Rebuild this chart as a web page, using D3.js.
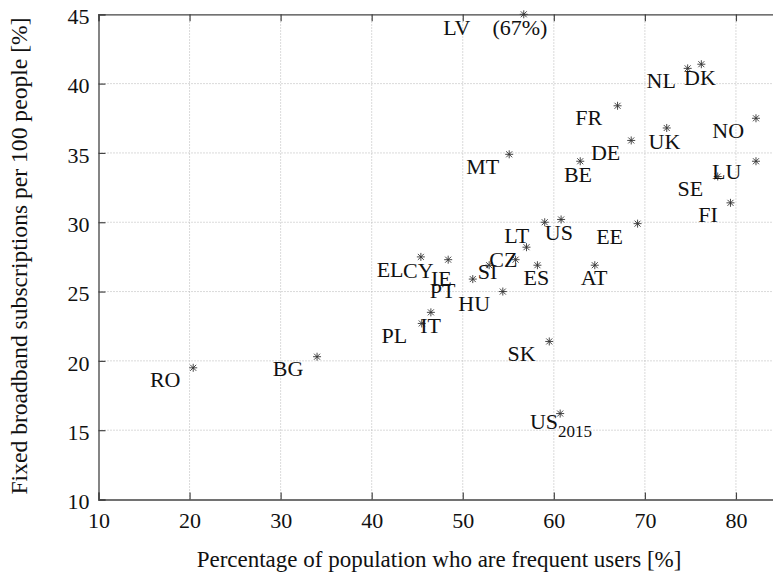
<!DOCTYPE html>
<html>
<head>
<meta charset="utf-8">
<script src="https://cdn.jsdelivr.net/npm/d3@7"></script>
<style>
  body { margin: 0; background: #fff; }
  svg { display: block; overflow: hidden; }
  text { font-family: "Liberation Serif", "Times New Roman", serif; fill: #111; }
</style>
</head>
<body>
<div class="chart"></div>
<script>
// data
const countries = ["RO","BG","LV","NL","DK","FR","NO","UK","DE","MT","BE","LU","SE","FI",
  "LT","US","EE","EL","CY","IE","SI","CZ","ES","AT","PT","HU","PL","IT","SK","US2015"]
const frequentUsers = [20.4,34.0,56.7,74.7,76.2,67.0,82.2,72.4,68.5,55.1,62.9,82.2,78.0,79.4,
  59.0,60.8,69.2,45.4,48.4,52.9,55.8,57.0,58.2,64.5,51.1,54.4,45.5,46.5,59.5,60.7]
const broadband = [19.5,20.3,45.0,41.1,41.4,38.4,37.5,36.8,35.9,34.9,34.4,34.4,33.3,31.4,
  30.0,30.2,29.9,27.5,27.3,26.9,27.3,28.2,26.9,26.9,25.9,25.0,22.7,23.5,21.4,16.2]
// where each name label sits (right end of text, baseline), in data units
const labelAt = [[19.0,18.1],[32.5,18.9],[59.3,43.5],[73.4,39.7],[77.8,39.9],[65.3,37.0],
  [80.9,36.1],[73.9,35.3],[67.3,34.5],[54.0,33.5],[64.2,32.9],[80.6,33.1],[76.4,31.9],[78.0,30.0],
  [57.3,28.5],[62.1,28.7],[67.6,28.4],[43.5,26.05],[46.8,26.0],[48.8,25.4],[53.8,25.9],[56.0,26.8],
  [59.5,25.5],[65.9,25.5],[49.2,24.5],[53.0,23.6],[43.9,21.3],[47.6,22.0],[58.0,20.0],[64.2,15.1]]
const xTicks = [10,20,30,40,50,60,70,80]
const yTicks = [10,15,20,25,30,35,40,45]

const w = 773
const h = 573
const serif = "'Liberation Serif', 'Times New Roman', serif"

const svg = d3.select(".chart")
  .append("svg")
  .attr("width", w)
  .attr("height", h)

// the plot runs past the right edge of the picture (10..90)
const xScale = d3.scaleLinear().domain([10, 90]).range([98.5, 827])
const yScale = d3.scaleLinear().domain([10, 45]).range([499.5, 14.3])

const x0 = xScale(10), y0 = yScale(10), yTop = yScale(45)

// grid
svg.append("g")
  .selectAll("line")
  .data(xTicks.slice(1))
  .enter()
  .append("line")
  .attr("x1", d => xScale(d)).attr("x2", d => xScale(d))
  .attr("y1", y0).attr("y2", yTop)
  .attr("stroke", "#b5b5b5").attr("stroke-dasharray", "1,2")

svg.append("g")
  .selectAll("line")
  .data(yTicks.slice(1, -1))
  .enter()
  .append("line")
  .attr("x1", x0).attr("x2", w)
  .attr("y1", d => yScale(d)).attr("y2", d => yScale(d))
  .attr("stroke", "#b5b5b5").attr("stroke-dasharray", "1,2")

// axes
const xAxis = d3.axisBottom(xScale).tickValues(xTicks).tickSize(-7).tickPadding(16)
const gx = svg.append("g")
  .attr("transform", "translate(0," + y0 + ")")
  .call(xAxis)

const xTop = d3.axisTop(xScale).tickValues(xTicks).tickSize(-7).tickFormat("")
const gxt = svg.append("g")
  .attr("transform", "translate(0," + yTop + ")")
  .call(xTop)

const yAxis = d3.axisLeft(yScale).tickValues(yTicks).tickSize(-7).tickPadding(9)
const gy = svg.append("g")
  .attr("transform", "translate(" + x0 + ",0)")
  .call(yAxis)

;[gx, gxt, gy].forEach(g => {
  g.attr("font-family", serif).attr("font-size", 22)
  g.select(".domain").attr("stroke", "#444").attr("stroke-width", 1.3)
  g.selectAll(".tick line").attr("stroke", "#444").attr("stroke-width", 1.2)
  g.selectAll(".tick text")
    .style("font-family", serif)
    .style("font-size", "22px")
    .attr("fill", "#111")
})
gx.selectAll(".tick text").attr("dy", "0.55em")
gy.selectAll(".tick text").attr("dy", "0.42em")

// axis titles
svg.append("text")
  .attr("x", 439)
  .attr("y", 567)
  .attr("text-anchor", "middle")
  .style("font-size", "23px")
  .text("Percentage of population who are frequent users [%]")

svg.append("text")
  .attr("transform", "translate(27,256) rotate(-90)")
  .attr("text-anchor", "middle")
  .style("font-size", "23.6px")
  .text("Fixed broadband subscriptions per 100 people [%]")

// points
const pts = countries.map((c, i) => ({ name: c, x: frequentUsers[i], y: broadband[i], lab: labelAt[i] }))

svg.append("g")
  .selectAll("path")
  .data(pts)
  .enter()
  .append("path")
  .attr("transform", d => "translate(" + xScale(d.x) + "," + yScale(d.y) + ")")
  .attr("d", "M-4,0H4M0,-4V4M-3,-3L3,3M-3,3L3,-3")
  .attr("stroke", "#333")
  .attr("stroke-width", 0.9)
  .attr("fill", "none")

// labels
const labels = svg.append("g")
  .selectAll("text")
  .data(pts)
  .enter()
  .append("text")
  .attr("x", d => xScale(d.lab[0]))
  .attr("y", d => yScale(d.lab[1]))
  .attr("text-anchor", "end")
  .style("font-size", "22px")

labels.each(function (d) {
  const t = d3.select(this)
  if (d.name == "US2015") {
    t.append("tspan").text("US")
    t.append("tspan").attr("dy", 8).style("font-size", "17px").text("2015")
  } else if (d.name == "LV") {
    t.style("white-space", "pre").text("LV\u2003(67%)")
  } else {
    t.text(d.name)
  }
})
</script>
</body>
</html>
